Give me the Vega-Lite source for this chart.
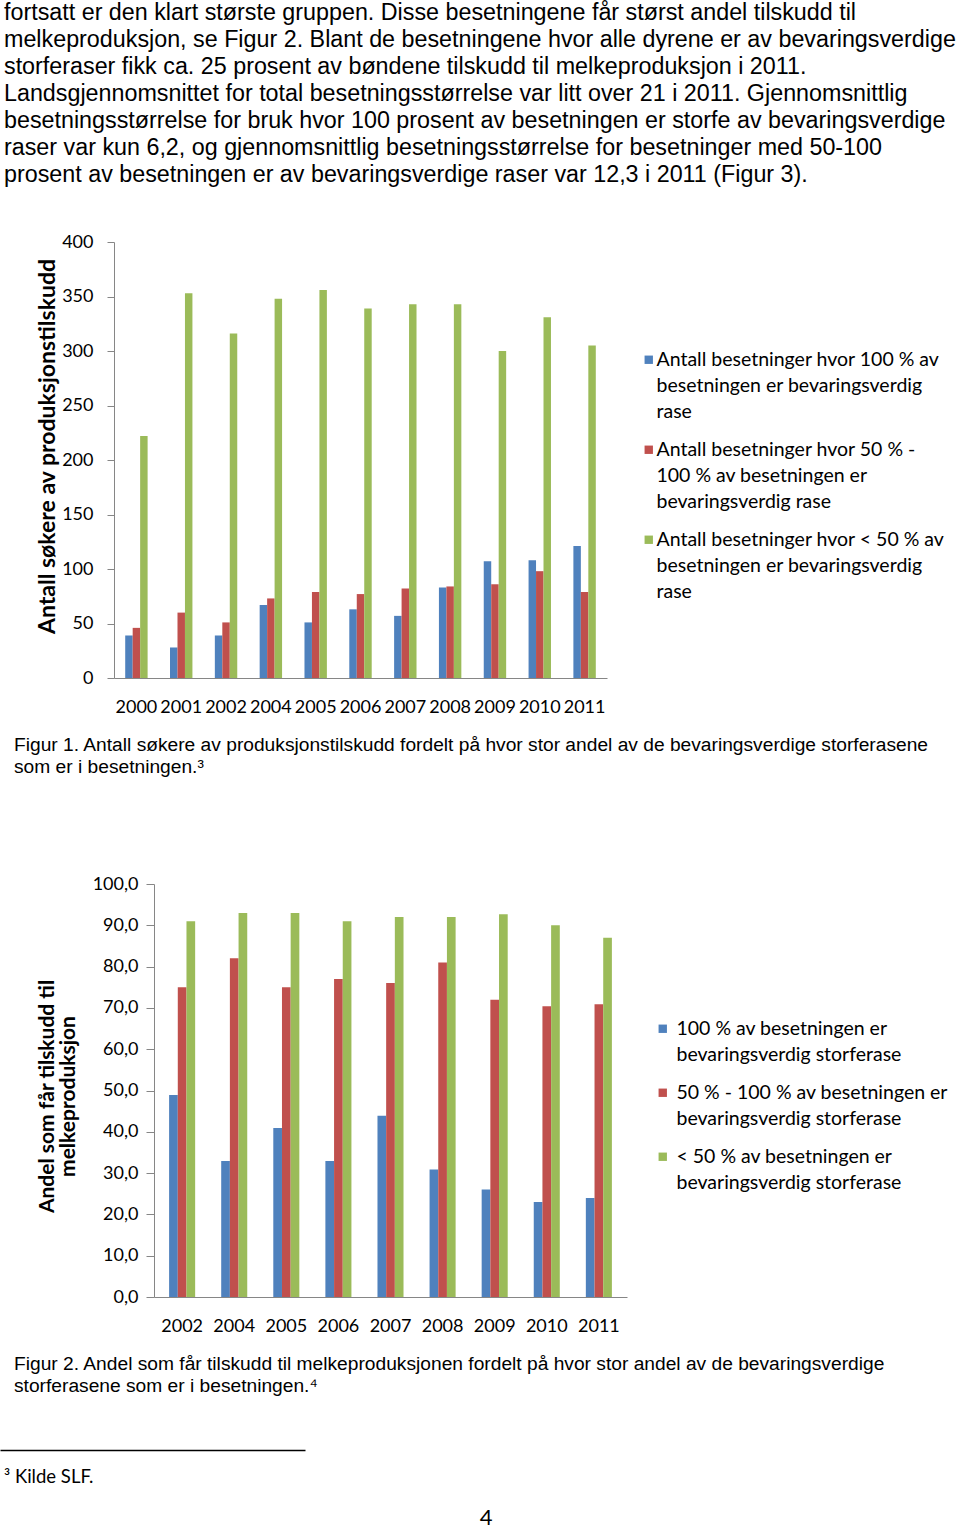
{
  "$schema": "https://vega.github.io/schema/vega-lite/v6.json",
  "background": "white",
  "padding": 0,
  "autosize": {"type": "pad"},
  "spacing": 0,
  "resolve": {
    "scale": {"x": "independent", "y": "independent", "xOffset": "independent", "color": "independent"},
    "legend": {"color": "independent"}
  },
  "config": {
    "view": {"stroke": null},
    "style": {"guide-label": {"lineHeight": 26}},
    "axis": {"grid": false, "domainColor": "#868686", "tickColor": "#868686", "labelColor": "#000000", "titleColor": "#000000", "labelFont": "Lato", "labelFontSize": 18, "titleFont": "Lato"}
  },
  "vconcat": [
    {
      "width": 960,
      "height": 233,
      "data": {"values": [
        {"linje": 0, "tekst": "fortsatt er den klart største gruppen. Disse besetningene får størst andel tilskudd til"},
        {"linje": 1, "tekst": "melkeproduksjon, se Figur 2. Blant de besetningene hvor alle dyrene er av bevaringsverdige"},
        {"linje": 2, "tekst": "storferaser fikk ca. 25 prosent av bøndene tilskudd til melkeproduksjon i 2011."},
        {"linje": 3, "tekst": "Landsgjennomsnittet for total besetningsstørrelse var litt over 21 i 2011. Gjennomsnittlig"},
        {"linje": 4, "tekst": "besetningsstørrelse for bruk hvor 100 prosent av besetningen er storfe av bevaringsverdige"},
        {"linje": 5, "tekst": "raser var kun 6,2, og gjennomsnittlig besetningsstørrelse for besetninger med 50-100"},
        {"linje": 6, "tekst": "prosent av besetningen er av bevaringsverdige raser var 12,3 i 2011 (Figur 3)."}
      ]},
      "mark": {"type": "text", "align": "left", "baseline": "alphabetic", "font": "Liberation Sans", "fontSize": 23.3, "dx": 4, "color": "#000000"},
      "encoding": {
        "x": {"datum": 0, "scale": {"domain": [0, 1]}, "axis": null},
        "y": {"field": "linje", "type": "quantitative", "scale": {"domain": [-0.7407, 7.8889], "reverse": true, "nice": false, "zero": false}, "axis": null},
        "text": {"field": "tekst"}
      }
    },
    {
      "bounds": "flush",
      "spacing": 0,
      "hconcat": [
        {"width": 114, "height": 436, "data": {"values": []}, "mark": "point", "encoding": {}},
        {
          "width": 493,
          "height": 436,
          "data": {"values": [
            {"år": "2000", "kategori": "Antall besetninger hvor 100 % av besetningen er bevaringsverdig rase", "antall": 39},
            {"år": "2000", "kategori": "Antall besetninger hvor 50 % - 100 % av besetningen er bevaringsverdig rase", "antall": 46},
            {"år": "2000", "kategori": "Antall besetninger hvor < 50 % av besetningen er bevaringsverdig rase", "antall": 222},
            {"år": "2001", "kategori": "Antall besetninger hvor 100 % av besetningen er bevaringsverdig rase", "antall": 28},
            {"år": "2001", "kategori": "Antall besetninger hvor 50 % - 100 % av besetningen er bevaringsverdig rase", "antall": 60},
            {"år": "2001", "kategori": "Antall besetninger hvor < 50 % av besetningen er bevaringsverdig rase", "antall": 353},
            {"år": "2002", "kategori": "Antall besetninger hvor 100 % av besetningen er bevaringsverdig rase", "antall": 39},
            {"år": "2002", "kategori": "Antall besetninger hvor 50 % - 100 % av besetningen er bevaringsverdig rase", "antall": 51},
            {"år": "2002", "kategori": "Antall besetninger hvor < 50 % av besetningen er bevaringsverdig rase", "antall": 316},
            {"år": "2004", "kategori": "Antall besetninger hvor 100 % av besetningen er bevaringsverdig rase", "antall": 67},
            {"år": "2004", "kategori": "Antall besetninger hvor 50 % - 100 % av besetningen er bevaringsverdig rase", "antall": 73},
            {"år": "2004", "kategori": "Antall besetninger hvor < 50 % av besetningen er bevaringsverdig rase", "antall": 348},
            {"år": "2005", "kategori": "Antall besetninger hvor 100 % av besetningen er bevaringsverdig rase", "antall": 51},
            {"år": "2005", "kategori": "Antall besetninger hvor 50 % - 100 % av besetningen er bevaringsverdig rase", "antall": 79},
            {"år": "2005", "kategori": "Antall besetninger hvor < 50 % av besetningen er bevaringsverdig rase", "antall": 356},
            {"år": "2006", "kategori": "Antall besetninger hvor 100 % av besetningen er bevaringsverdig rase", "antall": 63},
            {"år": "2006", "kategori": "Antall besetninger hvor 50 % - 100 % av besetningen er bevaringsverdig rase", "antall": 77},
            {"år": "2006", "kategori": "Antall besetninger hvor < 50 % av besetningen er bevaringsverdig rase", "antall": 339},
            {"år": "2007", "kategori": "Antall besetninger hvor 100 % av besetningen er bevaringsverdig rase", "antall": 57},
            {"år": "2007", "kategori": "Antall besetninger hvor 50 % - 100 % av besetningen er bevaringsverdig rase", "antall": 82},
            {"år": "2007", "kategori": "Antall besetninger hvor < 50 % av besetningen er bevaringsverdig rase", "antall": 343},
            {"år": "2008", "kategori": "Antall besetninger hvor 100 % av besetningen er bevaringsverdig rase", "antall": 83},
            {"år": "2008", "kategori": "Antall besetninger hvor 50 % - 100 % av besetningen er bevaringsverdig rase", "antall": 84},
            {"år": "2008", "kategori": "Antall besetninger hvor < 50 % av besetningen er bevaringsverdig rase", "antall": 343},
            {"år": "2009", "kategori": "Antall besetninger hvor 100 % av besetningen er bevaringsverdig rase", "antall": 107},
            {"år": "2009", "kategori": "Antall besetninger hvor 50 % - 100 % av besetningen er bevaringsverdig rase", "antall": 86},
            {"år": "2009", "kategori": "Antall besetninger hvor < 50 % av besetningen er bevaringsverdig rase", "antall": 300},
            {"år": "2010", "kategori": "Antall besetninger hvor 100 % av besetningen er bevaringsverdig rase", "antall": 108},
            {"år": "2010", "kategori": "Antall besetninger hvor 50 % - 100 % av besetningen er bevaringsverdig rase", "antall": 98},
            {"år": "2010", "kategori": "Antall besetninger hvor < 50 % av besetningen er bevaringsverdig rase", "antall": 331},
            {"år": "2011", "kategori": "Antall besetninger hvor 100 % av besetningen er bevaringsverdig rase", "antall": 121},
            {"år": "2011", "kategori": "Antall besetninger hvor 50 % - 100 % av besetningen er bevaringsverdig rase", "antall": 79},
            {"år": "2011", "kategori": "Antall besetninger hvor < 50 % av besetningen er bevaringsverdig rase", "antall": 305}
          ]},
          "mark": {"type": "bar"},
          "encoding": {
            "x": {"field": "år", "type": "nominal", "scale": {"paddingInner": 0.5, "paddingOuter": 0.25},
                  "axis": {"title": null, "ticks": false, "labelAngle": 0, "labelPadding": 20, "labelOverlap": false, "labelBaseline": "top"}},
            "xOffset": {"field": "kategori", "type": "nominal", "scale": {"domain": [
              "Antall besetninger hvor 100 % av besetningen er bevaringsverdig rase",
              "Antall besetninger hvor 50 % - 100 % av besetningen er bevaringsverdig rase",
              "Antall besetninger hvor < 50 % av besetningen er bevaringsverdig rase"]}},
            "y": {"field": "antall", "type": "quantitative", "scale": {"domain": [0, 400], "nice": false},
                  "axis": {"values": [0, 50, 100, 150, 200, 250, 300, 350, 400], "tickSize": 7, "labelPadding": 14,
                           "title": "Antall søkere av produksjonstilskudd", "titleFontSize": 23, "titleFontWeight": "bold",
                           "titleX": -67, "titleY": 204, "titleAngle": -90, "titleBaseline": "middle", "titleAlign": "center"}},
            "color": {"field": "kategori", "type": "nominal",
              "scale": {"domain": [
                "Antall besetninger hvor 100 % av besetningen er bevaringsverdig rase",
                "Antall besetninger hvor 50 % - 100 % av besetningen er bevaringsverdig rase",
                "Antall besetninger hvor < 50 % av besetningen er bevaringsverdig rase"],
                "range": ["#4F81BD", "#C0504D", "#9BBB59"]},
              "legend": {"title": null, "orient": "none", "legendX": 639, "legendY": 108, "padding": 0,
                "symbolType": "square", "symbolSize": 70, "symbolStrokeWidth": 0, "labelFont": "Lato", "labelFontSize": 19.5,
                "labelColor": "#000000", "labelLimit": 400, "labelOffset": -2, "labelBaseline": "middle", "rowPadding": 17,
                "labelExpr": "datum.label == 'Antall besetninger hvor 100 % av besetningen er bevaringsverdig rase' ? ['Antall besetninger hvor 100 % av', 'besetningen er bevaringsverdig', 'rase'] : datum.label == 'Antall besetninger hvor 50 % - 100 % av besetningen er bevaringsverdig rase' ? ['Antall besetninger hvor 50 % -', '100 % av besetningen er', 'bevaringsverdig rase'] : ['Antall besetninger hvor < 50 % av', 'besetningen er bevaringsverdig', 'rase']"}}
          }
        }
      ]
    },
    {
      "width": 960,
      "height": 159,
      "data": {"values": [
        {"linje": 0, "tekst": "Figur 1. Antall søkere av produksjonstilskudd fordelt på hvor stor andel av de bevaringsverdige storferasene"},
        {"linje": 1, "tekst": "som er i besetningen.³"}
      ]},
      "mark": {"type": "text", "align": "left", "baseline": "alphabetic", "font": "Liberation Sans", "fontSize": 19.2, "dx": 14, "color": "#000000"},
      "encoding": {
        "x": {"datum": 0, "scale": {"domain": [0, 1]}, "axis": null},
        "y": {"field": "linje", "type": "quantitative", "scale": {"domain": [-1.591, 5.636], "reverse": true, "nice": false, "zero": false}, "axis": null},
        "text": {"field": "tekst"}
      }
    },
    {
      "bounds": "flush",
      "spacing": 0,
      "hconcat": [
        {"width": 154, "height": 413, "data": {"values": []}, "mark": "point", "encoding": {}},
        {
          "width": 473,
          "height": 413,
          "data": {"values": [
            {"årstall": "2002", "gruppe": "100 % av besetningen er bevaringsverdig storferase", "andel": 48.9},
            {"årstall": "2002", "gruppe": "50 % - 100 % av besetningen er bevaringsverdig storferase", "andel": 75.0},
            {"årstall": "2002", "gruppe": "< 50 % av besetningen er bevaringsverdig storferase", "andel": 91.0},
            {"årstall": "2004", "gruppe": "100 % av besetningen er bevaringsverdig storferase", "andel": 32.9},
            {"årstall": "2004", "gruppe": "50 % - 100 % av besetningen er bevaringsverdig storferase", "andel": 82.0},
            {"årstall": "2004", "gruppe": "< 50 % av besetningen er bevaringsverdig storferase", "andel": 93.0},
            {"årstall": "2005", "gruppe": "100 % av besetningen er bevaringsverdig storferase", "andel": 40.9},
            {"årstall": "2005", "gruppe": "50 % - 100 % av besetningen er bevaringsverdig storferase", "andel": 75.0},
            {"årstall": "2005", "gruppe": "< 50 % av besetningen er bevaringsverdig storferase", "andel": 93.0},
            {"årstall": "2006", "gruppe": "100 % av besetningen er bevaringsverdig storferase", "andel": 32.9},
            {"årstall": "2006", "gruppe": "50 % - 100 % av besetningen er bevaringsverdig storferase", "andel": 77.0},
            {"årstall": "2006", "gruppe": "< 50 % av besetningen er bevaringsverdig storferase", "andel": 91.0},
            {"årstall": "2007", "gruppe": "100 % av besetningen er bevaringsverdig storferase", "andel": 43.9},
            {"årstall": "2007", "gruppe": "50 % - 100 % av besetningen er bevaringsverdig storferase", "andel": 76.0},
            {"årstall": "2007", "gruppe": "< 50 % av besetningen er bevaringsverdig storferase", "andel": 92.0},
            {"årstall": "2008", "gruppe": "100 % av besetningen er bevaringsverdig storferase", "andel": 30.9},
            {"årstall": "2008", "gruppe": "50 % - 100 % av besetningen er bevaringsverdig storferase", "andel": 81.0},
            {"årstall": "2008", "gruppe": "< 50 % av besetningen er bevaringsverdig storferase", "andel": 92.0},
            {"årstall": "2009", "gruppe": "100 % av besetningen er bevaringsverdig storferase", "andel": 26.0},
            {"årstall": "2009", "gruppe": "50 % - 100 % av besetningen er bevaringsverdig storferase", "andel": 72.0},
            {"årstall": "2009", "gruppe": "< 50 % av besetningen er bevaringsverdig storferase", "andel": 92.7},
            {"årstall": "2010", "gruppe": "100 % av besetningen er bevaringsverdig storferase", "andel": 23.0},
            {"årstall": "2010", "gruppe": "50 % - 100 % av besetningen er bevaringsverdig storferase", "andel": 70.4},
            {"årstall": "2010", "gruppe": "< 50 % av besetningen er bevaringsverdig storferase", "andel": 90.0},
            {"årstall": "2011", "gruppe": "100 % av besetningen er bevaringsverdig storferase", "andel": 24.0},
            {"årstall": "2011", "gruppe": "50 % - 100 % av besetningen er bevaringsverdig storferase", "andel": 70.9},
            {"årstall": "2011", "gruppe": "< 50 % av besetningen er bevaringsverdig storferase", "andel": 87.0}
          ]},
          "mark": {"type": "bar"},
          "encoding": {
            "x": {"field": "årstall", "type": "nominal", "scale": {"paddingInner": 0.5, "paddingOuter": 0.29},
                  "axis": {"title": null, "ticks": false, "labelAngle": 0, "labelPadding": 20, "labelOverlap": false, "labelBaseline": "top"}},
            "xOffset": {"field": "gruppe", "type": "nominal", "scale": {"domain": [
              "100 % av besetningen er bevaringsverdig storferase",
              "50 % - 100 % av besetningen er bevaringsverdig storferase",
              "< 50 % av besetningen er bevaringsverdig storferase"]}},
            "y": {"field": "andel", "type": "quantitative", "scale": {"domain": [0, 100], "nice": false},
                  "axis": {"values": [0, 10, 20, 30, 40, 50, 60, 70, 80, 90, 100], "tickSize": 8, "labelPadding": 8,
                           "labelExpr": "replace(format(datum.value, '.1f'), '.', ',')",
                           "title": ["Andel som får tilskudd til", "melkeproduksjon"], "titleFontSize": 21, "titleFontWeight": "bold",
                           "titleLineHeight": 21, "titleX": -107, "titleY": 212, "titleAngle": -90, "titleBaseline": "middle", "titleAlign": "center"}},
            "color": {"field": "gruppe", "type": "nominal",
              "scale": {"domain": [
                "100 % av besetningen er bevaringsverdig storferase",
                "50 % - 100 % av besetningen er bevaringsverdig storferase",
                "< 50 % av besetningen er bevaringsverdig storferase"],
                "range": ["#4F81BD", "#C0504D", "#9BBB59"]},
              "legend": {"title": null, "orient": "none", "legendX": 653, "legendY": 135, "padding": 0,
                "symbolType": "square", "symbolSize": 70, "symbolStrokeWidth": 0, "labelFont": "Lato", "labelFontSize": 19.5,
                "labelColor": "#000000", "labelLimit": 400, "labelOffset": 4, "labelBaseline": "middle", "rowPadding": 17,
                "labelExpr": "datum.label == '100 % av besetningen er bevaringsverdig storferase' ? ['100 % av besetningen er', 'bevaringsverdig storferase'] : datum.label == '50 % - 100 % av besetningen er bevaringsverdig storferase' ? ['50 % - 100 % av besetningen er', 'bevaringsverdig storferase'] : ['< 50 % av besetningen er', 'bevaringsverdig storferase']"}}
          }
        }
      ]
    },
    {
      "width": 960,
      "height": 115,
      "data": {"values": [
        {"linje": 0, "tekst": "Figur 2. Andel som får tilskudd til melkeproduksjonen fordelt på hvor stor andel av de bevaringsverdige"},
        {"linje": 1, "tekst": "storferasene som er i besetningen.⁴"}
      ]},
      "mark": {"type": "text", "align": "left", "baseline": "alphabetic", "font": "Liberation Sans", "fontSize": 19.2, "dx": 14, "color": "#000000"},
      "encoding": {
        "x": {"datum": 0, "scale": {"domain": [0, 1]}, "axis": null},
        "y": {"field": "linje", "type": "quantitative", "scale": {"domain": [-1.591, 3.636], "reverse": true, "nice": false, "zero": false}, "axis": null},
        "text": {"field": "tekst"}
      }
    },
    {
      "width": 305,
      "height": 54,
      "data": {"values": [{"tekst": "³ Kilde SLF."}]},
      "mark": {"type": "text", "align": "left", "baseline": "middle", "font": "Lato", "fontSize": 18.5, "dx": 4, "color": "#000000"},
      "encoding": {
        "x": {"datum": 0, "scale": {"domain": [0, 1]}, "axis": {"orient": "top", "ticks": false, "labels": false, "title": null, "grid": false, "domainColor": "#000000", "domainWidth": 1.5}},
        "text": {"field": "tekst"}
      }
    },
    {
      "width": 960,
      "height": 28,
      "data": {"values": [{"tekst": "4"}]},
      "mark": {"type": "text", "align": "center", "baseline": "middle", "font": "Lato", "fontSize": 22, "dx": 6, "color": "#000000"},
      "encoding": {"text": {"field": "tekst"}}
    }
  ]
}
